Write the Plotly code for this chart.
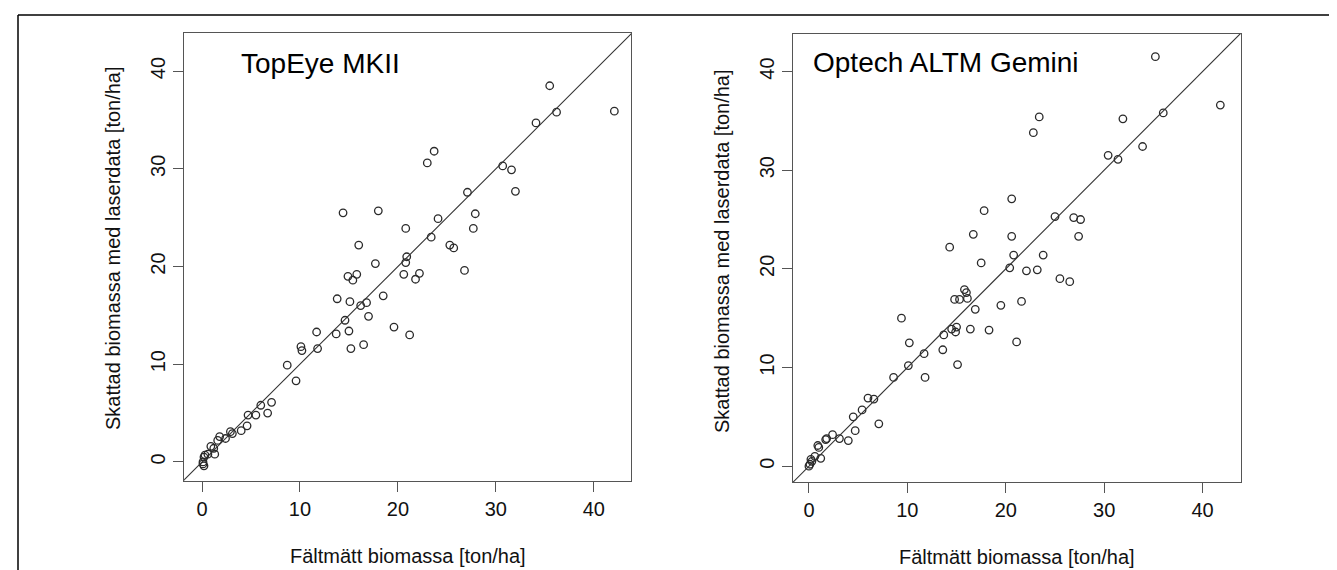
import plotly.graph_objects as go

# ---------------- data ----------------
topeye_x = [42.1, 35.5, 36.2, 34.1, 30.7, 31.6, 32.0, 27.1, 27.9, 27.7, 25.3, 25.7, 26.8,
            14.4, 18.0, 23.0, 23.7, 24.1, 20.8, 23.4, 16.0, 17.7, 20.9, 20.8, 14.9, 15.4,
            15.8, 20.6, 21.8, 22.2, 18.5, 13.8, 15.1, 16.2, 16.8, 17.0, 14.6, 15.0, 13.7,
            11.7, 19.6, 21.2, 15.2, 16.5, 11.8, 10.1, 10.2, 8.7, 9.6, 7.1, 6.0, 6.7, 4.7,
            5.5, 4.6, 4.0, 3.1, 2.9, 2.4, 1.8, 1.6, 0.9, 1.3, 0.6, 0.2, 0.1, 0.2, 0.1, 1.2, 0.3]
topeye_y = [35.9, 38.5, 35.8, 34.7, 30.3, 29.9, 27.7, 27.6, 25.4, 23.9, 22.2, 21.9, 19.6,
            25.5, 25.7, 30.6, 31.8, 24.9, 23.9, 23.0, 22.2, 20.3, 21.0, 20.4, 19.0, 18.6,
            19.2, 19.2, 18.7, 19.3, 17.0, 16.7, 16.4, 16.0, 16.3, 14.9, 14.5, 13.4, 13.1,
            13.3, 13.8, 13.0, 11.6, 12.0, 11.6, 11.8, 11.4, 9.9, 8.3, 6.1, 5.8, 5.0, 4.8,
            4.8, 3.7, 3.2, 2.9, 3.1, 2.4, 2.6, 2.2, 1.6, 0.8, 0.8, 0.5, 0.0, -0.4, -0.2, 1.4, 0.7]

optech_x = [35.2, 41.8, 31.9, 36.0, 33.9, 30.4, 31.4, 25.0, 26.9, 27.6, 27.4, 25.5, 26.5,
            23.4, 22.8, 20.6, 17.8, 16.7, 20.6, 14.3, 17.5, 20.8, 23.8, 20.4, 22.1, 23.2,
            19.5, 21.6, 15.8, 16.0, 14.8, 15.3, 16.1, 16.9, 9.4, 14.5, 15.0, 14.9, 16.4,
            18.3, 13.7, 21.1, 10.2, 11.7, 13.6, 15.1, 10.1, 11.8, 8.6, 6.0, 6.6, 5.4, 4.5,
            7.1, 4.7, 4.0, 3.1, 2.4, 1.8, 1.7, 0.9, 1.0, 1.2, 0.6, 0.2, 0.1, 0.0, 0.3]
optech_y = [41.5, 36.6, 35.2, 35.8, 32.4, 31.5, 31.1, 25.3, 25.2, 25.0, 23.3, 19.0, 18.7,
            35.4, 33.8, 27.1, 25.9, 23.5, 23.3, 22.2, 20.6, 21.4, 21.4, 20.1, 19.8, 19.9,
            16.3, 16.7, 17.9, 17.6, 16.9, 16.9, 17.0, 15.9, 15.0, 13.9, 14.1, 13.6, 13.9,
            13.8, 13.3, 12.6, 12.5, 11.4, 11.8, 10.3, 10.2, 9.0, 9.0, 6.9, 6.8, 5.7, 5.0,
            4.3, 3.6, 2.6, 2.8, 3.2, 2.8, 2.7, 2.1, 1.9, 0.8, 1.0, 0.7, 0.2, 0.0, 0.5]

tick_vals = [0, 10, 20, 30, 40]
tick_text = ["0", "10", "20", "30", "40"]
panel_titles = ["TopEye MKII", "Optech ALTM Gemini"]
x_title = "Fältmätt biomassa [ton/ha]"
y_title = "Skattad biomassa med laserdata [ton/ha]"

left_xrange = [-1.84, 43.8]
left_yrange = [-1.95, 43.9]
right_xrange = [-1.62, 43.9]
right_yrange = [-1.6, 43.8]

# ---------------- figure ----------------
W, H = 1337, 570
FONT = "Liberation Sans, Arial, sans-serif"
fig = go.Figure()

marker = dict(symbol="circle-open", size=7.5, color="#2a2a2a", line=dict(width=1.3, color="#2a2a2a"))

fig.add_trace(go.Scatter(x=topeye_x, y=topeye_y, mode="markers", marker=marker,
                         xaxis="x", yaxis="y", showlegend=False))
lo, hi = min(left_xrange[0], left_yrange[0]), max(left_xrange[1], left_yrange[1])
fig.add_trace(go.Scatter(x=[lo, hi], y=[lo, hi], mode="lines",
                         line=dict(color="#333", width=1.1), xaxis="x", yaxis="y", showlegend=False))

fig.add_trace(go.Scatter(x=optech_x, y=optech_y, mode="markers", marker=marker,
                         xaxis="x2", yaxis="y2", showlegend=False))
lo2, hi2 = min(right_xrange[0], right_yrange[0]), max(right_xrange[1], right_yrange[1])
fig.add_trace(go.Scatter(x=[lo2, hi2], y=[lo2, hi2], mode="lines",
                         line=dict(color="#333", width=1.1), xaxis="x2", yaxis="y2", showlegend=False))

def ax(domain, rng, anchor, angle=0):
    return dict(domain=domain, range=rng, anchor=anchor, showline=True, mirror=True,
                linecolor="#555", linewidth=1.3, ticks="outside", ticklen=10, tickwidth=1.3,
                tickcolor="#555", showgrid=False, zeroline=False, tickvals=tick_vals,
                ticktext=tick_text, tickangle=angle,
                tickfont=dict(family=FONT, size=20, color="#111"))

fig.update_layout(
    width=W, height=H, margin=dict(l=0, r=0, t=0, b=0),
    paper_bgcolor="white", plot_bgcolor="white",
    xaxis=ax([176 / W, 623 / W], left_xrange, "y"),
    yaxis=ax([1 - 473 / H, 1 - 25 / H], left_yrange, "x", -90),
    xaxis2=ax([785 / W, 1233 / W], right_xrange, "y2"),
    yaxis2=ax([1 - 474 / H, 1 - 26 / H], right_yrange, "x2", -90),
)

ann = []
ann.append(dict(text=panel_titles[0], x=312 / W, y=1 - 56 / H, xref="paper", yref="paper",
                showarrow=False, xanchor="center", yanchor="middle",
                font=dict(family=FONT, size=28, color="black")))
ann.append(dict(text=panel_titles[1], x=938 / W, y=1 - 55 / H, xref="paper", yref="paper",
                showarrow=False, xanchor="center", yanchor="middle",
                font=dict(family=FONT, size=28, color="black")))
for xc, yc in [(400, 548), (1009, 549)]:
    ann.append(dict(text=x_title, x=xc / W, y=1 - yc / H, xref="paper", yref="paper",
                    showarrow=False, xanchor="center", yanchor="middle",
                    font=dict(family=FONT, size=20, color="#111")))
for xc, yc in [(105, 240), (714, 243)]:
    ann.append(dict(text=y_title, x=xc / W, y=1 - yc / H, xref="paper", yref="paper",
                    showarrow=False, xanchor="center", yanchor="middle", textangle=-90,
                    font=dict(family=FONT, size=20, color="#111")))
fig.update_layout(annotations=ann)

# outer frame (left and top edges visible)
fig.add_shape(type="line", xref="paper", yref="paper", x0=10 / W, x1=1, y0=1 - 7 / H, y1=1 - 7 / H,
              line=dict(color="black", width=1.5))
fig.add_shape(type="line", xref="paper", yref="paper", x0=10 / W, x1=10 / W, y0=0, y1=1 - 7 / H,
              line=dict(color="black", width=1.5))

fig.write_html("out.html")
